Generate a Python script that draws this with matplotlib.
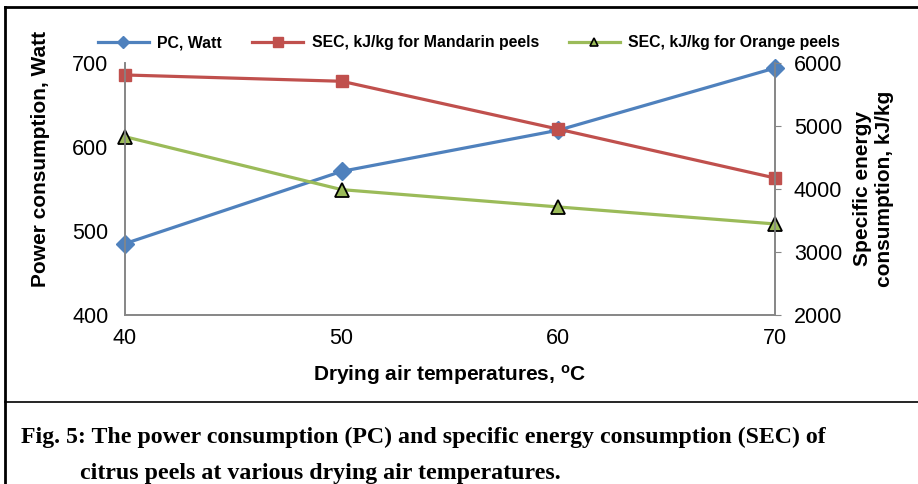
import matplotlib
matplotlib.use("Agg")
import matplotlib.pyplot as plt
from matplotlib.lines import Line2D

# ---- data ----
temps = [40, 50, 60, 70]
pc_watt = [485, 571, 620, 694]
sec_mandarin = [5810, 5710, 4950, 4175]
sec_orange = [4830, 3990, 3715, 3445]
left_ticks = [400, 500, 600, 700]
right_ticks = [2000, 3000, 4000, 5000, 6000]

plt.rcParams['font.family'] = ['Liberation Sans', 'DejaVu Sans']
plt.rcParams['mathtext.fontset'] = 'custom'
plt.rcParams['mathtext.bf'] = 'Liberation Sans:bold'
plt.rcParams['mathtext.rm'] = 'Liberation Sans:bold'

W, H = 918, 484
fig = plt.figure(figsize=(W / 100, H / 100), dpi=100)

def fx(px):
    return px / W

def fy(py):
    return 1 - py / H

blue = '#4F81BD'
red = '#C0504D'
green = '#9BBB59'
spine_col = '#868686'

ax = fig.add_axes([fx(125), fy(315), fx(775) - fx(125), fy(63) - fy(315)])
ax2 = ax.twinx()

l1, = ax.plot(temps, pc_watt, color=blue, lw=2.3, marker='D', ms=9,
              mfc=blue, mec=blue, label='PC, Watt', zorder=3, clip_on=False)
l2, = ax2.plot(temps, sec_mandarin, color=red, lw=2.3, marker='s', ms=9,
               mfc=red, mec=red, label='SEC, kJ/kg for Mandarin peels', clip_on=False)
l3, = ax2.plot(temps, sec_orange, color=green, lw=2.3, marker='^', ms=10,
               mfc=green, mec='black', mew=1.3, label='SEC, kJ/kg for Orange peels',
               clip_on=False)

ax.set_xlim(40, 70)
ax.set_ylim(400, 700)
ax2.set_ylim(2000, 6000)
ax.set_xticks(temps)
ax.set_yticks(left_ticks)
ax2.set_yticks(right_ticks)

for a in (ax, ax2):
    a.spines['top'].set_visible(False)
    for s in ('left', 'right', 'bottom'):
        a.spines[s].set_color(spine_col)
        a.spines[s].set_linewidth(1.2)
    a.patch.set_visible(False)

ax.tick_params(axis='x', length=0, pad=9, labelsize=15.5)
ax.tick_params(axis='y', length=0, pad=12, labelsize=15.5)
ax2.tick_params(axis='y', length=4.5, direction='out', color=spine_col, pad=9, labelsize=15.5)

fig.text(fx(450), fy(375), r'Drying air temperatures, $\mathbf{^{o}}$C',
         ha='center', va='center', fontsize=15, fontweight='bold')
fig.text(fx(41), fy(159), 'Power consumption, Watt', rotation=90,
         ha='center', va='center', fontsize=15, fontweight='bold')
fig.text(fx(874), fy(189), 'Specific energy\nconsumption, kJ/kg', rotation=90,
         ha='center', va='center', fontsize=15, fontweight='bold',
         multialignment='center', linespacing=1.2)

# legend
h1 = Line2D([], [], color=blue, lw=2.3, marker='D', ms=6, mfc=blue, mec=blue)
h2 = Line2D([], [], color=red, lw=2.3, marker='s', ms=7, mfc=red, mec=red)
h3 = Line2D([], [], color=green, lw=2.3, marker='^', ms=6, mfc=green, mec='black', mew=1.2)
leg = fig.legend([h1, h2, h3],
                 ['PC, Watt', 'SEC, kJ/kg for Mandarin peels', 'SEC, kJ/kg for Orange peels'],
                 loc='center left', bbox_to_anchor=(fx(98), fy(43)), ncol=3,
                 frameon=False, handlelength=3.2, handletextpad=0.55, columnspacing=1.9,
                 prop={'weight': 'bold', 'size': 11.4}, borderpad=0, borderaxespad=0)

# frame lines
fig.add_artist(Line2D([fx(5), fx(918)], [fy(7), fy(7)], color='black', lw=2))
fig.add_artist(Line2D([fx(5), fx(5)], [fy(7), fy(484)], color='black', lw=2))
fig.add_artist(Line2D([fx(5), fx(918)], [fy(402), fy(402)], color='black', lw=1.2))

# caption
fig.text(fx(21), fy(437), 'Fig. 5: The power consumption (PC) and specific energy consumption (SEC) of',
         ha='left', va='center', fontsize=17.2, fontweight='bold', family='Liberation Serif')
fig.text(fx(80), fy(474), 'citrus peels at various drying air temperatures.',
         ha='left', va='center', fontsize=17.2, fontweight='bold', family='Liberation Serif')

fig.savefig('out.png', dpi=100)
